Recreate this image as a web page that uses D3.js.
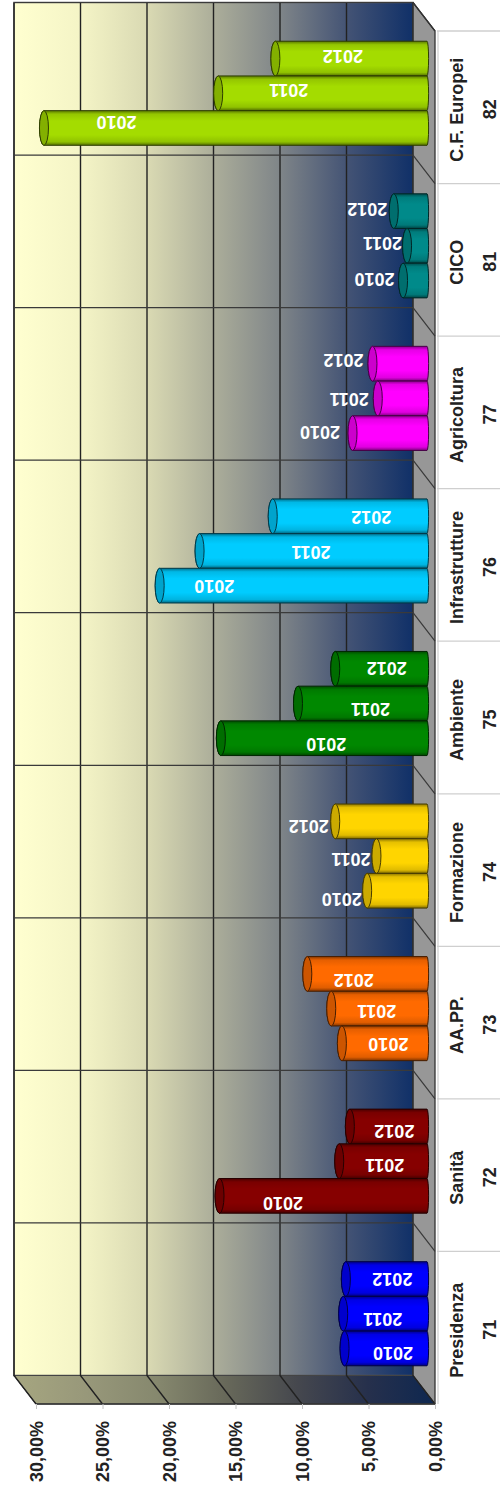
<!DOCTYPE html>
<html>
<head>
<meta charset="utf-8">
<script src="https://cdnjs.cloudflare.com/ajax/libs/d3/7.8.5/d3.min.js"></script>
<style>
html,body{margin:0;padding:0;background:#fff}
svg{display:block}
text{font-family:"Liberation Sans",Arial,sans-serif}
</style>
</head>
<body>
<svg id="chart" width="500" height="1486"></svg>
<script>
// Spending share by department, 2010-2012
const categories = ["Presidenza","Sanità","AA.PP.","Formazione","Ambiente","Infrastrutture","Agricoltura","CICO","C.F. Europei"];
const codes = ["71","72","73","74","75","76","77","81","82"];
const years = ["2010","2011","2012"];
const values2010 = [6.2,15.6,6.4,4.5,15.5,20.1,5.6,1.8,28.8];
const values2011 = [6.3,6.6,7.2,3.8,9.7,17.1,3.7,1.5,15.7];
const values2012 = [6.1,5.8,9.0,6.9,6.9,11.6,4.1,2.5,11.4];
const barColors = ["#0000ff","#860000","#ff6a00","#ffd500","#008800","#00ccff","#ff00ff","#008a8a","#a4dc00"];
const percentTicks = [0,5,10,15,20,25,30];

// Hand-placed year labels: shift from each bar's tip and centre line
const labelDx = [[48.5,39.5,46.5],[63.5,45.5,44.5],[46.5,45.5,46.5],[-25.5,-25.5,-26.5],[105.5,72.5,51.5],[54.5,111.5,98.5],[-32.5,-28.5,-29],[-28.5,-24.5,-26.5],[72.5,70.5,67.5]];
const labelDy = [[5,5.5,0],[7,4,5],[1,2,6],[8,3,5],[6,5,-1],[0,1,1],[-1,1,-4],[-2,-3,-2],[-6,-3,-3]];

const seriesValues = [values2010, values2011, values2012];

const svg = d3.select("#chart");
const defs = svg.append("defs");

// Front plane of the box; the wall and the bars sit behind it
const x = d3.scaleLinear().domain([0,30]).range([435,36]);
const y = d3.scaleBand().domain(codes).range([1404,31]);
const wall = {dx:-22, dy:-28.5};
const barPlane = {dx:-8, dy:-14};
const front = {left:x(30), right:x(0), top:31, bottom:1404};

const wallGrad = defs.append("linearGradient").attr("id","wallGrad");
[[0,"#ffffd0"],[.17,"#f4f4c6"],[.34,"#d8d8b2"],[.5,"#acae9a"],[.67,"#7e8488"],[.84,"#425274"],[1,"#103068"]]
  .forEach(s => wallGrad.append("stop").attr("offset",s[0]).attr("stop-color",s[1]));
const floorGrad = defs.append("linearGradient").attr("id","floorGrad");
[[0,"#a6a680"],[.17,"#98987a"],[.34,"#86886e"],[.5,"#68695a"],[.67,"#46484e"],[.84,"#26304c"],[1,"#0e2750"]]
  .forEach(s => floorGrad.append("stop").attr("offset",s[0]).attr("stop-color",s[1]));

barColors.forEach((c,i) => {
  const g = defs.append("linearGradient").attr("id","bar"+i).attr("x1",0).attr("x2",0).attr("y1",0).attr("y2",1);
  const shade = d3.interpolateRgb(c,"#000");
  [[0,shade(.45)],[.1,shade(.1)],[.3,c],[.7,c],[.9,shade(.12)],[1,shade(.5)]]
    .forEach(s => g.append("stop").attr("offset",s[0]).attr("stop-color",s[1]));
});

const lineColor = "#222";
const wallLeft = front.left + wall.dx, wallRight = front.right + wall.dx;
const wallTop = front.top + wall.dy, wallBottom = front.bottom + wall.dy;

// Back wall
svg.append("rect").attr("x",wallLeft).attr("y",wallTop)
  .attr("width",wallRight-wallLeft).attr("height",wallBottom-wallTop)
  .attr("fill","url(#wallGrad)").attr("stroke","#555").attr("stroke-width",1.5);

// Side wall
svg.append("path")
  .attr("d",`M${wallRight},${wallTop}L${front.right},${front.top}L${front.right},${front.bottom}L${wallRight},${wallBottom}Z`)
  .attr("fill","#979797");

// Floor
svg.append("path")
  .attr("d",`M${wallLeft},${wallBottom}L${wallRight},${wallBottom}L${front.right},${front.bottom}L${front.left},${front.bottom}Z`)
  .attr("fill","url(#floorGrad)").attr("stroke","#444").attr("stroke-width",1);

// Value gridlines running up the wall and across the floor
svg.append("g").selectAll("path").data(percentTicks).join("path")
  .attr("d",d => `M${x(d)+wall.dx},${wallTop}L${x(d)+wall.dx},${wallBottom}L${x(d)},${front.bottom}`)
  .attr("fill","none").attr("stroke",lineColor).attr("stroke-width",1.4);

// Category dividers on the wall and side wall
const dividers = codes.map(c => y(c)).concat([front.top]);
svg.append("g").selectAll("path").data(dividers).join("path")
  .attr("d",d => `M${wallLeft},${d+wall.dy}L${wallRight},${d+wall.dy}L${front.right},${d}`)
  .attr("fill","none").attr("stroke","#3a3a3a").attr("stroke-width",1.2);

// Outer edge of the box
svg.append("path")
  .attr("d",`M${wallRight},${wallTop}L${front.right},${front.top}L${front.right},${front.bottom}L${front.left},${front.bottom}`)
  .attr("fill","none").attr("stroke","#333").attr("stroke-width",1.3);

// Pale category table to the right of the box
svg.append("g").selectAll("line").data(dividers).join("line")
  .attr("x1",front.right+2).attr("x2",500).attr("y1",d => d).attr("y2",d => d)
  .attr("stroke","#cfcfcf").attr("stroke-width",1.2);
svg.append("line").attr("x1",front.right+3).attr("x2",front.right+3)
  .attr("y1",front.top).attr("y2",front.bottom).attr("stroke","#cfcfcf").attr("stroke-width",1.2);

// Cylindrical bars, topmost series first so lower ones overlap it
const sub = d3.scaleBand().domain(["2012","2011","2010"]).range([-52.05,52.05]);
const capRx = 4.5;
const bars = svg.append("g");
codes.forEach((code,i) => {
  years.slice().reverse().forEach(year => {
    const s = years.indexOf(year);
    const v = seriesValues[s][i];
    const tip = x(v) + barPlane.dx;
    const base = x(0) + barPlane.dx;
    const centre = y(code) + y.bandwidth()/2 + barPlane.dy + sub(year) + sub.bandwidth()/2;
    const r = sub.bandwidth()/2;
    const edge = d3.interpolateRgb(barColors[i],"#000")(.72);
    bars.append("path")
      .attr("d",`M${tip},${centre-r}L${base},${centre-r}A1.6,${r} 0 0 1 ${base},${centre+r}L${tip},${centre+r}A${capRx},${r} 0 0 1 ${tip},${centre-r}Z`)
      .attr("fill",`url(#bar${i})`).attr("stroke",edge).attr("stroke-width",1);
    bars.append("ellipse")
      .attr("cx",tip).attr("cy",centre).attr("rx",capRx).attr("ry",r)
      .attr("fill",d3.interpolateRgb(barColors[i],"#000")(.2)).attr("stroke",edge).attr("stroke-width",1);
  });
});

// Year labels, printed upside down
const labels = svg.append("g");
codes.forEach((code,i) => {
  years.forEach((year,s) => {
    const tip = x(seriesValues[s][i]) + barPlane.dx;
    const centre = y(code) + y.bandwidth()/2 + barPlane.dy + sub(year) + sub.bandwidth()/2;
    labels.append("text")
      .attr("transform",`translate(${tip+labelDx[i][s]},${centre+labelDy[i][s]}) rotate(180)`)
      .attr("text-anchor","middle").attr("dominant-baseline","central")
      .attr("font-size",18).attr("font-weight","bold").attr("fill","#fff")
      .text(year);
  });
});

// Value axis below the box
const xAxis = d3.axisBottom(x).tickValues(percentTicks).tickSize(5)
  .tickFormat(d => d.toFixed(2).replace(".",",") + "%");
const axisG = svg.append("g").attr("transform",`translate(0,${front.bottom})`).call(xAxis);
axisG.select(".domain").remove();
axisG.selectAll(".tick line").attr("stroke","#c4c4c4").attr("stroke-width",1);
axisG.selectAll(".tick text")
  .attr("x",null).attr("y",null).attr("dy",null)
  .attr("transform","translate(6,17) rotate(-90)")
  .attr("text-anchor","end")
  .attr("font-size",18).attr("font-family","Liberation Sans").attr("font-weight","bold")
  .attr("fill","#222");

// Category names and codes
const catG = svg.append("g");
catG.selectAll("text.name").data(categories).join("text").attr("class","name")
  .attr("transform",(d,i) => `translate(463,${y(codes[i])+y.bandwidth()/2+2.5}) rotate(-90)`)
  .attr("text-anchor","middle").attr("font-size",18).attr("font-weight","bold").attr("fill","#222")
  .text(d => d);
catG.selectAll("text.code").data(codes).join("text").attr("class","code")
  .attr("transform",d => `translate(496,${y(d)+y.bandwidth()/2+2}) rotate(-90)`)
  .attr("text-anchor","middle").attr("font-size",18).attr("font-weight","bold").attr("fill","#222")
  .text(d => d);
</script>
</body>
</html>
